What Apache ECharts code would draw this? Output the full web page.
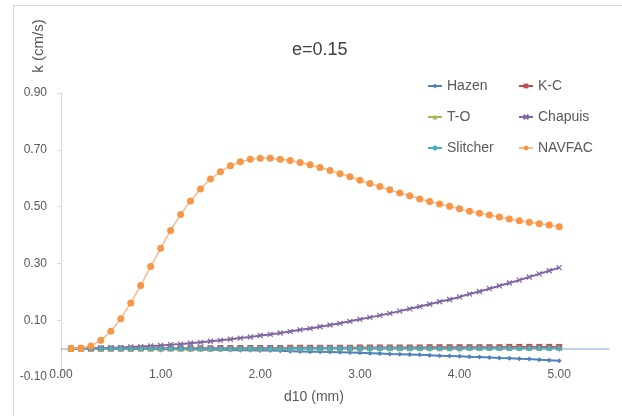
<!DOCTYPE html>
<html><head><meta charset="utf-8">
<script src="https://cdn.jsdelivr.net/npm/echarts@6/dist/echarts.min.js"></script>
<style>html,body{margin:0;padding:0;background:#fff}#c{width:622px;height:416px}</style>
</head><body><div id="c"></div>
<script>
const d10 = [0.1,0.2,0.3,0.4,0.5,0.6,0.7,0.8,0.9,1.0,1.1,1.2,1.3,1.4,1.5,1.6,1.7,1.8,1.9,2.0,2.1,2.2,2.3,2.4,2.5,2.6,2.7,2.8,2.9,3.0,3.1,3.2,3.3,3.4,3.5,3.6,3.7,3.8,3.9,4.0,4.1,4.2,4.3,4.4,4.5,4.6,4.7,4.8,4.9,5.0];
const hazen = [0.000,0.000,0.000,0.000,0.000,-0.001,-0.001,-0.001,-0.001,-0.002,-0.002,-0.002,-0.003,-0.003,-0.004,-0.004,-0.005,-0.006,-0.006,-0.007,-0.007,-0.008,-0.009,-0.010,-0.011,-0.011,-0.012,-0.013,-0.014,-0.015,-0.016,-0.017,-0.019,-0.020,-0.021,-0.022,-0.023,-0.025,-0.026,-0.027,-0.029,-0.030,-0.031,-0.033,-0.034,-0.036,-0.037,-0.039,-0.041,-0.043];
const kc = [0.000,0.000,0.000,0.000,0.000,0.000,0.000,0.001,0.001,0.001,0.001,0.001,0.001,0.001,0.001,0.002,0.002,0.002,0.002,0.002,0.002,0.002,0.003,0.003,0.003,0.003,0.003,0.003,0.003,0.004,0.004,0.004,0.004,0.004,0.004,0.004,0.005,0.005,0.005,0.005,0.005,0.005,0.005,0.005,0.006,0.006,0.006,0.006,0.006,0.006];
const to = [0.000,0.000,0.000,0.000,0.000,0.000,0.000,0.000,0.000,0.000,0.000,0.000,0.000,0.000,0.000,0.000,0.000,0.000,0.000,0.000,0.001,0.001,0.001,0.001,0.001,0.001,0.001,0.001,0.001,0.001,0.001,0.001,0.001,0.001,0.001,0.001,0.001,0.001,0.001,0.001,0.002,0.002,0.002,0.002,0.002,0.002,0.002,0.002,0.002,0.002];
const chapuis = [0.000,0.001,0.001,0.002,0.003,0.004,0.006,0.007,0.009,0.011,0.014,0.016,0.019,0.022,0.026,0.029,0.033,0.037,0.041,0.046,0.050,0.055,0.060,0.066,0.071,0.077,0.083,0.089,0.096,0.103,0.110,0.117,0.124,0.132,0.140,0.148,0.156,0.165,0.173,0.182,0.192,0.201,0.211,0.221,0.231,0.241,0.252,0.263,0.274,0.285];
const slitcher = [0.000,0.000,0.000,0.000,0.000,0.000,0.000,0.000,0.000,0.000,0.000,0.000,0.000,0.000,0.000,0.000,0.000,0.000,0.000,0.000,0.000,0.000,0.000,0.000,0.000,0.001,0.001,0.001,0.001,0.001,0.001,0.001,0.001,0.001,0.001,0.001,0.001,0.001,0.001,0.001,0.001,0.001,0.001,0.001,0.001,0.001,0.001,0.001,0.001,0.001];
const navfac = [0.000,0.002,0.009,0.029,0.061,0.105,0.161,0.222,0.289,0.353,0.416,0.472,0.520,0.562,0.597,0.623,0.644,0.658,0.667,0.670,0.670,0.667,0.662,0.655,0.647,0.638,0.627,0.616,0.605,0.593,0.581,0.571,0.559,0.548,0.538,0.527,0.518,0.509,0.501,0.492,0.484,0.477,0.470,0.463,0.456,0.450,0.445,0.440,0.435,0.429];
const xTickValues = [0,1,2,3,4,5];
const yTickValues = [-0.1,0.1,0.3,0.5,0.7,0.9];
const seriesNames = ['Hazen','K-C','T-O','Chapuis','Slitcher','NAVFAC'];

const FONT = "'Liberation Sans', Arial, sans-serif";
const pairs = ys => d10.map((x,i)=>[x, ys[i]]);
const xPath = 'path://M0,0L10,10M10,0L0,10';
const starPath = 'path://M5,0L5,10M0,5L10,5M1.5,1.5L8.5,8.5M8.5,1.5L1.5,8.5';

function mk(name, data, color, symbol, size, width, lineColor, stroke) {
  return {
    name, type:'line', data: pairs(data), xAxisIndex:0, yAxisIndex:0,
    symbol, symbolSize:size, showSymbol:true,
    lineStyle:{color: lineColor || color, width: width},
    itemStyle: stroke ? {color: color, borderColor: color, borderWidth: 1.2} : {color: color},
    emphasis:{disabled:true}, z: 2
  };
}

const chart = echarts.init(document.getElementById('c'), null, {renderer:'canvas'});
chart.setOption({
  animation:false,
  backgroundColor:'#fff',
  textStyle:{fontFamily:FONT},
  title:{text:'e=0.15', left:292, top:41, padding:0,
    textStyle:{fontSize:18, fontWeight:'normal', color:'#404040', fontFamily:FONT}},
  legend:[
    {data:[seriesNames[0],seriesNames[2],seriesNames[4]], orient:'vertical', left:427, top:79, padding:0,
     itemGap:17, itemWidth:14, itemHeight:6, textStyle:{fontSize:14, color:'#595959', fontFamily:FONT}},
    {data:[seriesNames[1],seriesNames[3],seriesNames[5]], orient:'vertical', left:518, top:79, padding:0,
     itemGap:17, itemWidth:14, itemHeight:6, textStyle:{fontSize:14, color:'#595959', fontFamily:FONT}}
  ],
  grid:{left:61, right:13, top:93, bottom:39, containLabel:false},
  xAxis:[
    {type:'value', min:0, max:5.5, position:'bottom',
     axisLine:{show:true, onZero:true, lineStyle:{color:'#a9c3e5', width:1.5}},
     axisTick:{show:true, length:4, customValues:xTickValues, lineStyle:{color:'#a9c3e5'}},
     axisLabel:{show:false}, splitLine:{show:false}},
    {type:'value', min:0, max:5.5, position:'bottom',
     axisLine:{show:false, onZero:false}, axisTick:{show:false},
     axisLabel:{customValues:xTickValues, formatter:v=>v.toFixed(2), color:'#595959', fontSize:12, margin:-8, fontFamily:FONT},
     splitLine:{show:false}}
  ],
  yAxis:{type:'value', min:-0.1, max:0.9, interval:0.2,
    axisLine:{show:true, onZero:false, lineStyle:{color:'#d9d9d9'}},
    axisTick:{show:true, length:4, lineStyle:{color:'#d9d9d9'}},
    axisLabel:{formatter:v=>v.toFixed(2), color:'#595959', fontSize:12, margin:14, fontFamily:FONT},
    splitLine:{show:false}},
  graphic:[
    {type:'line', shape:{x1:13, y1:5.5, x2:622, y2:5.5}, style:{stroke:'#d9d9d9', lineWidth:1}, silent:true},
    {type:'line', shape:{x1:13.5, y1:5, x2:13.5, y2:416}, style:{stroke:'#d9d9d9', lineWidth:1}, silent:true},
    {type:'text', x:39, y:46, rotation:Math.PI/2,
     style:{text:'k (cm/s)', fontSize:15, fill:'#595959', font:"15px 'Liberation Sans', Arial, sans-serif", textAlign:'center', textVerticalAlign:'middle'}},
    {type:'text', x:314, y:397,
     style:{text:'d10 (mm)', fill:'#595959', font:"14px 'Liberation Sans', Arial, sans-serif", textAlign:'center', textVerticalAlign:'middle'}}
  ],
  series:[
    mk('Hazen', hazen, '#4f81bd', 'diamond', 5, 2),
    mk('K-C', kc, '#c0504d', 'rect', 6, 2),
    mk('T-O', to, '#9bbb59', 'triangle', 6, 2),
    mk('Chapuis', chapuis, '#8064a2', xPath, 5, 2, null, true),
    mk('Slitcher', slitcher, '#4bacc6', starPath, 6, 2, null, true),
    mk('NAVFAC', navfac, '#f79646', 'circle', 7, 1.5, '#f9b98a')
  ]
});
</script></body></html>
